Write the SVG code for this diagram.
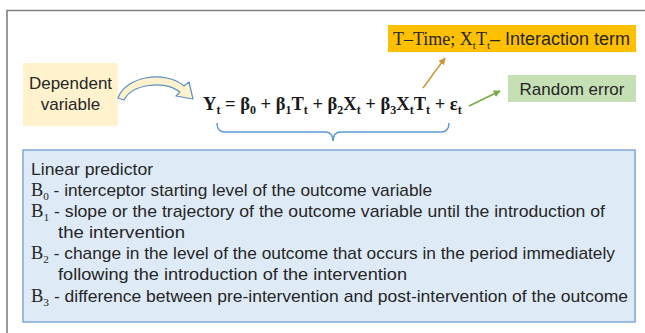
<svg xmlns="http://www.w3.org/2000/svg" width="645" height="333" viewBox="0 0 645 333">
<defs>
<style>
.sans{font-family:"Liberation Sans","Noto Sans",Arial,sans-serif;fill:#262626}
.serif{font-family:"Liberation Serif","Times New Roman",serif;fill:#262626}
.eq{font-family:"Liberation Serif","Times New Roman",serif;font-weight:bold;font-size:18.5px;fill:#1a1a1a}
.box{font-size:17px}
</style>
<marker id="ahO" viewBox="0 0 10 10" refX="9" refY="5" markerWidth="7" markerHeight="7" orient="auto" markerUnits="userSpaceOnUse"><path d="M0,0 L10,5 L0,10 Z" fill="#C9963C"/></marker>
<marker id="ahG" viewBox="0 0 10 10" refX="9" refY="5" markerWidth="7" markerHeight="7" orient="auto" markerUnits="userSpaceOnUse"><path d="M0,0 L10,5 L0,10 Z" fill="#70AD47"/></marker>
</defs>
<rect width="645" height="333" fill="#ffffff"/>
<path d="M7,333 L7,10.5 L645,10.5" fill="none" stroke="#7f7f7f" stroke-width="1.6"/>

<g id="interaction">
<rect x="388" y="25" width="248" height="27" fill="#FFC000"/>
<text x="393" y="45" font-size="18"><tspan class="serif">T–Time; X</tspan><tspan class="serif" font-size="11" dy="4">t</tspan><tspan class="serif" dy="-4">T</tspan><tspan class="serif" font-size="11" dy="4">t</tspan><tspan class="sans" dy="-4">– Interaction term</tspan></text>
</g>

<g id="random-error">
<rect x="508" y="75" width="128" height="27" fill="#C5E0B4"/>
<text class="sans" x="572" y="95" font-size="17" text-anchor="middle">Random error</text>
</g>

<g id="dependent">
<rect x="23" y="63" width="95" height="63" fill="#FFF2CC"/>
<text class="sans" x="70.5" y="89" font-size="17" text-anchor="middle">Dependent</text>
<text class="sans" x="70.5" y="110" font-size="17" text-anchor="middle">variable</text>
</g>

<g id="equation">
<text class="eq" x="203" y="110">Y<tspan font-size="12" dy="4">t</tspan><tspan dy="-4"> = β</tspan><tspan font-size="12" dy="4">0</tspan><tspan dy="-4"> + β</tspan><tspan font-size="12" dy="4">1</tspan><tspan dy="-4">T</tspan><tspan font-size="12" dy="4">t</tspan><tspan dy="-4"> + β</tspan><tspan font-size="12" dy="4">2</tspan><tspan dy="-4">X</tspan><tspan font-size="12" dy="4">t</tspan><tspan dy="-4"> + β</tspan><tspan font-size="12" dy="4">3</tspan><tspan dy="-4">X</tspan><tspan font-size="12" dy="4">t</tspan><tspan dy="-4">T</tspan><tspan font-size="12" dy="4">t</tspan><tspan dy="-4"> + ε</tspan><tspan font-size="12" dy="4">t</tspan></text>
</g>

<g id="predictor">
<rect x="23" y="150" width="612" height="172" fill="#DEEBF7" stroke="#7DA7D9" stroke-width="1.5"/>
<text class="sans box" x="31" y="175" textLength="122" lengthAdjust="spacingAndGlyphs">Linear predictor</text>
<text class="sans box" x="31" y="196" textLength="401" lengthAdjust="spacingAndGlyphs"><tspan class="serif" font-size="18">B</tspan><tspan class="serif" font-size="11" dy="4">0</tspan><tspan dy="-4"> - interceptor starting level of the outcome variable</tspan></text>
<text class="sans box" x="31" y="217" textLength="574" lengthAdjust="spacingAndGlyphs"><tspan class="serif" font-size="18">B</tspan><tspan class="serif" font-size="11" dy="4">1</tspan><tspan dy="-4"> - slope or the trajectory of the outcome variable until the introduction of</tspan></text>
<text class="sans box" x="58" y="238" textLength="127" lengthAdjust="spacingAndGlyphs">the intervention</text>
<text class="sans box" x="31" y="259" textLength="584" lengthAdjust="spacingAndGlyphs"><tspan class="serif" font-size="18">B</tspan><tspan class="serif" font-size="11" dy="4">2</tspan><tspan dy="-4"> - change in the level of the outcome that occurs in the period immediately</tspan></text>
<text class="sans box" x="58" y="280" textLength="349" lengthAdjust="spacingAndGlyphs">following the introduction of the intervention</text>
<text class="sans box" x="31" y="302" textLength="597" lengthAdjust="spacingAndGlyphs"><tspan class="serif" font-size="18">B</tspan><tspan class="serif" font-size="11" dy="4">3</tspan><tspan dy="-4"> - difference between pre-intervention and post-intervention of the outcome</tspan></text>
</g>

<g id="connectors">
<path d="M118,98 C126,76 165,70 184,86 L189,82 L193,99 L176,96 L180,92 C164,80 132,84 124,100 Z" fill="#FFF2CC" stroke="#5B8FC7" stroke-width="1.2" stroke-linejoin="round"/>
<path d="M217,123 Q217,132 225,132 L325,132 Q333,132 333,141 Q333,132 341,132 L441,132 Q449,132 449,123" fill="none" stroke="#5B9BD5" stroke-width="1.5"/>
<line x1="423" y1="88" x2="445" y2="58" stroke="#C9963C" stroke-width="1.5" marker-end="url(#ahO)"/>
<line x1="469" y1="106" x2="500" y2="91" stroke="#70AD47" stroke-width="1.5" marker-end="url(#ahG)"/>
</g>
</svg>
